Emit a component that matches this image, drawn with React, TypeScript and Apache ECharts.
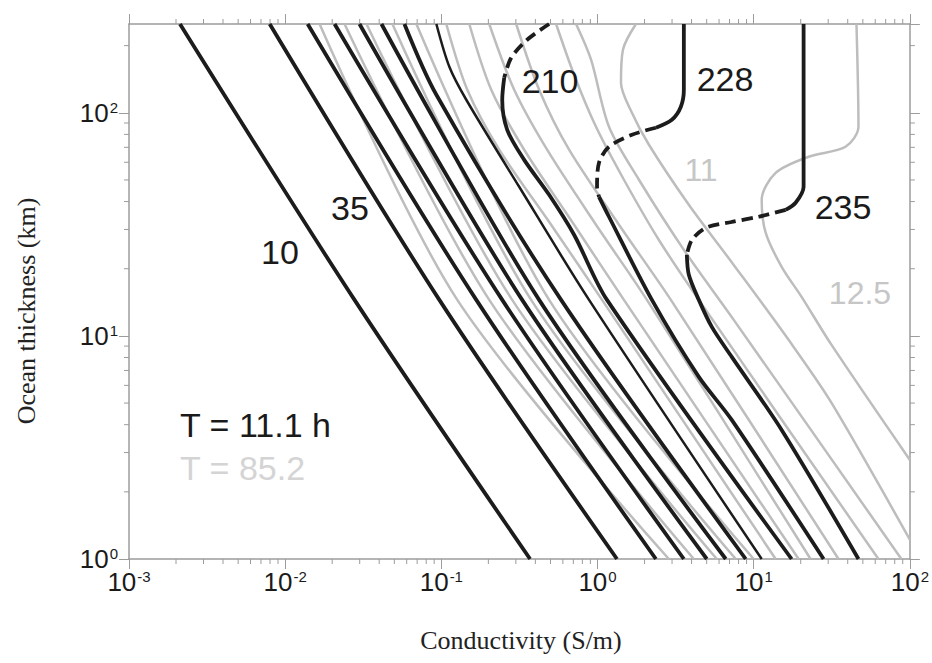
import React, { useEffect, useRef } from 'react';
import * as echarts from 'echarts';

const FONT = '"Liberation Sans", Arial, sans-serif';
const SERIF = '"Liberation Serif", "Times New Roman", serif';

const X_MIN = 0.001;
const X_MAX = 100;
const Y_MIN = 1;
const Y_MAX = 250;

// Black contours (T = 11.1 h): [conductivity S/m, thickness km]
const b10 = [[0.00212, 250], [0.0278, 14.5], [0.37, 1]];
const b35 = [[0.00796, 250], [0.0971, 14.5], [1.332, 1]];
const b3 = [[0.01393, 250], [0.1674, 14.5], [2.365, 1]];
const b4 = [[0.02072, 250], [0.2454, 14.5], [3.571, 1]];
const b5 = [[0.02992, 250], [0.3293, 14.5], [5.008, 1]];
const b6 = [[0.04136, 250], [0.4229, 14.5], [6.625, 1]];
const b7 = [[0.05801, 250], [0.0929, 120.4], [0.5845, 14.5], [8.889, 1]];
const b8 = [[0.09292, 250], [0.1125, 160.8], [0.1444, 114.4], [0.315, 46.6], [0.8826, 14.5], [11.25, 1]];
const b210Dash = [[0.4899, 250], [0.3543, 212.5], [0.2801, 176.5], [0.2527, 143.5]];
const b210 = [[0.2527, 143.5], [0.2454, 114.4], [0.2641, 83.9], [0.3392, 61.5], [0.4899, 42.9], [0.7077, 28.4], [1.15, 14.5], [17.49, 1]];
const b228Top = [[3.571, 250], [3.571, 126.8], [3.417, 106.4], [2.992, 93.0], [2.365, 85.7]];
const b228Dash = [[2.365, 85.7], [1.661, 79.7], [1.184, 70.4], [1.022, 59.7], [0.993, 46.6], [1.022, 42.0]];
const b228Low = [[1.022, 42.0], [1.184, 34.2], [2.23, 14.5], [4.453, 6.55], [7.235, 4.2], [28.02, 1]];
const b235Top = [[20.87, 250], [20.87, 55.5], [20.87, 46.6], [18.55, 39.5], [16.01, 36.7]];
const b235Dash = [[16.01, 36.7], [10.76, 34.2], [7.235, 32.4], [4.935, 30.5], [4.016, 26.9], [3.732, 23.1]];
const b235Low = [[3.732, 23.1], [3.843, 18.8], [4.453, 14.5], [5.391, 10.97], [7.235, 8.05], [15.1, 3.79], [46.87, 1]];

// Gray contours (T = 85.2)
const g1 = [[0.01661, 250], [0.1265, 14.5], [2.863, 1]];
const g2 = [[0.024, 250], [0.2026, 14.5], [4.136, 1]];
const g3 = [[0.03317, 250], [0.2842, 14.5], [5.801, 1]];
const g4 = [[0.04862, 250], [0.3759, 14.5], [7.674, 1]];
const g5 = [[0.06922, 250], [0.4899, 14.5], [10.0, 1]];
const g6 = [[0.1076, 250], [0.1466, 126.8], [0.2348, 68.3], [0.5045, 31.5], [1.069, 14.5], [13.82, 1]];
const g7 = [[0.151, 250], [0.2087, 126.8], [0.3392, 68.3], [0.7077, 31.5], [1.476, 14.5], [19.39, 1]];
const g8 = [[0.2026, 250], [0.2927, 126.8], [0.4756, 68.3], [0.978, 31.5], [2.072, 14.5], [23.13, 1]];
const g9 = [[0.3014, 250], [0.4229, 126.8], [0.6575, 68.3], [1.372, 31.5], [2.949, 14.5], [34.92, 1]];
const g10 = [[0.543, 250], [0.7077, 148.1], [0.978, 86.5], [1.476, 50.1], [2.472, 26.9], [4.453, 14.5], [62.9, 1]];
const g11 = [[0.7289, 250], [0.909, 172.9], [1.184, 86.5], [1.842, 50.1], [3.571, 24.3], [7.451, 11.8], [88.25, 1]];
const g11Label = [[1.762, 250], [1.455, 191.7], [1.413, 136.3], [1.661, 100], [2.134, 71.9], [3.843, 38.7], [7.451, 20.8], [16.73, 9.6], [31.51, 5.01], [100, 1.22]];
const g125 = [[45.51, 250], [46.87, 86.5], [38.71, 70.4], [22.46, 63.5], [13.82, 53.8], [11.25, 40.7], [11.93, 29.0], [15.1, 20.4], [20.26, 14.96], [31.51, 9.11], [100, 2.78]];

const grayLines = [g1, g2, g3, g4, g5, g6, g7, g8, g9, g10, g11, g11Label, g125];
const blackSolid = [b10, b35, b3, b4, b5, b6, b7, b210, b228Top, b228Low, b235Top, b235Low];
const blackThin = [b8];
const blackDashed = [b210Dash, b228Dash, b235Dash];

const contourLabels = [
  { text: '10', x: 280, y: 252 },
  { text: '35', x: 350, y: 208 },
  { text: '210', x: 550, y: 81 },
  { text: '228', x: 725, y: 79 },
  { text: '235', x: 843, y: 207 },
];
const grayLabels = [
  { text: '11', x: 701, y: 170 },
  { text: '12.5', x: 860, y: 293 },
];

const X_TITLE = 'Conductivity (S/m)';
const Y_TITLE = 'Ocean thickness (km)';

const BLACK = '#1c1c1c';
const GRAY = '#bdbdbd';
const AXIS = '#9c9c9c';

const minorX: number[] = [];
for (let e = -3; e < 2; e++) for (let k = 2; k <= 9; k++) minorX.push(k * Math.pow(10, e));
const minorY: number[] = [];
for (let e = 0; e < 3; e++) for (let k = 2; k <= 9; k++) { const v = k * Math.pow(10, e); if (v < Y_MAX) minorY.push(v); }

function mkLine(data: number[][], color: string, width: number, dashed: boolean, z: number) {
  return {
    type: 'line', data, showSymbol: false, symbol: 'none', smooth: 0.3, silent: true,
    lineStyle: { color, width, type: dashed ? [11, 6] : 'solid', cap: 'butt' }, z,
  };
}

function tickSeries(data: number[][], dir: string) {
  return {
    type: 'custom', coordinateSystem: 'cartesian2d', clip: false, silent: true, z: 1,
    data,
    renderItem: (params: any, api: any) => {
      const p = api.coord([api.value(0), api.value(1)]);
      let x2 = p[0], y2 = p[1];
      if (dir === 'b') y2 += 5; else if (dir === 't') y2 -= 5; else if (dir === 'l') x2 -= 5; else x2 += 5;
      return { type: 'line', shape: { x1: p[0], y1: p[1], x2, y2 }, style: { stroke: AXIS, lineWidth: 1 } };
    },
  };
}

const rich = {
  b: { fontSize: 26, fontFamily: FONT, color: '#1a1a1a', lineHeight: 26, padding: [10, 0, 0, 0], verticalAlign: 'bottom' },
  s: { fontSize: 15, fontFamily: FONT, color: '#1a1a1a', lineHeight: 15, padding: [0, 0, 0, 1], verticalAlign: 'top' },
};
const fmt = (v: number) => `{b|10}{s|${Math.round(Math.log10(v))}}`;

function buildOption() {
  const axisCommon = {
    type: 'log', logBase: 10,
    axisLine: { show: true, lineStyle: { color: AXIS, width: 1.5 } },
    axisTick: { show: true, length: 10, lineStyle: { color: AXIS, width: 1 } },
    splitLine: { show: false },
  };
  const series: any[] = [];
  grayLines.forEach((d) => series.push(mkLine(d, GRAY, 2.5, false, 2)));
  blackThin.forEach((d) => series.push(mkLine(d, BLACK, 2.5, false, 3)));
  blackSolid.forEach((d) => series.push(mkLine(d, BLACK, 3.8, false, 3)));
  blackDashed.forEach((d) => series.push(mkLine(d, BLACK, 3.8, true, 3)));
  series.push(tickSeries(minorX.map((v) => [v, Y_MIN]), 'b'));
  series.push(tickSeries(minorX.map((v) => [v, Y_MAX]), 't'));
  series.push(tickSeries(minorY.map((v) => [X_MIN, v]), 'l'));
  series.push(tickSeries(minorY.map((v) => [X_MAX, v]), 'r'));

  const graphic: any[] = [];
  contourLabels.forEach((l) => graphic.push({
    type: 'text', x: l.x, y: l.y, silent: true, z: 10,
    style: { text: l.text, fontSize: 34, fontFamily: FONT, fill: '#1a1a1a', align: 'center', verticalAlign: 'middle' },
  }));
  grayLabels.forEach((l) => graphic.push({
    type: 'text', x: l.x, y: l.y, silent: true, z: 10,
    style: { text: l.text, fontSize: 32, fontFamily: FONT, fill: '#c6c6c6', align: 'center', verticalAlign: 'middle' },
  }));
  graphic.push({
    type: 'text', x: 180, y: 425, silent: true, z: 10,
    style: { text: 'T = 11.1 h', fontSize: 34, fontFamily: FONT, fill: '#1a1a1a', align: 'left', verticalAlign: 'middle' },
  });
  graphic.push({
    type: 'text', x: 180, y: 468, silent: true, z: 10,
    style: { text: 'T = 85.2', fontSize: 34, fontFamily: FONT, fill: '#d4d4d4', align: 'left', verticalAlign: 'middle' },
  });
  graphic.push({
    type: 'text', x: 521, y: 640, silent: true,
    style: { text: X_TITLE, fontSize: 26, fontFamily: SERIF, fill: '#222', align: 'center', verticalAlign: 'middle' },
  });
  graphic.push({
    type: 'text', x: 26, y: 311, rotation: Math.PI / 2, silent: true,
    style: { text: Y_TITLE, fontSize: 26, fontFamily: SERIF, fill: '#222', align: 'center', verticalAlign: 'middle' },
  });

  return {
    animation: false,
    backgroundColor: '#ffffff',
    grid: { left: 129, right: 21, top: 24, bottom: 104, containLabel: false },
    xAxis: [
      { ...axisCommon, min: X_MIN, max: X_MAX, splitNumber: 5, position: 'bottom',
        axisLabel: { formatter: fmt, rich, margin: 10 } },
      { ...axisCommon, min: X_MIN, max: X_MAX, splitNumber: 5, position: 'top', axisLabel: { show: false } },
    ],
    yAxis: [
      { ...axisCommon, min: Y_MIN, max: Y_MAX, splitNumber: 3, position: 'left',
        axisLabel: { formatter: fmt, rich, margin: 11, showMaxLabel: false } },
      { ...axisCommon, min: Y_MIN, max: Y_MAX, splitNumber: 3, position: 'right', axisLabel: { show: false } },
    ],
    series,
    graphic,
  };
}

export default function App() {
  const ref = useRef<HTMLDivElement>(null);
  useEffect(() => {
    document.body.style.margin = '0';
    const chart = echarts.init(ref.current as HTMLDivElement, null, { renderer: 'svg' });
    chart.setOption(buildOption() as any);
    return () => chart.dispose();
  }, []);
  return <div ref={ref} style={{ position: 'absolute', left: 0, top: 0, width: 932, height: 663, background: '#fff' }} />;
}
